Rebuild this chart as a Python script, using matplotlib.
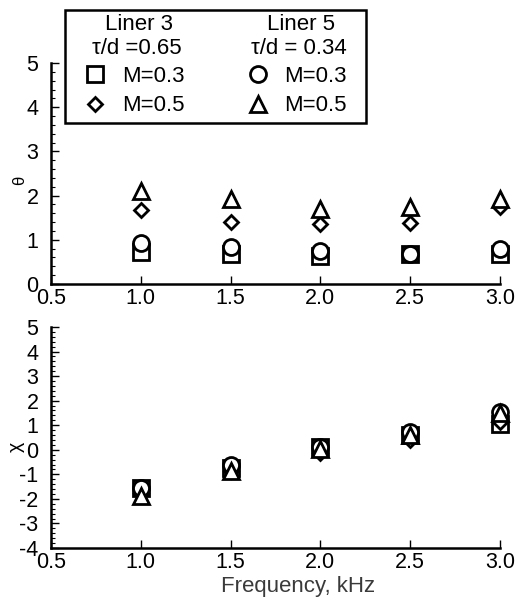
import matplotlib
matplotlib.use("Agg")
import matplotlib.pyplot as plt
from matplotlib.patches import Rectangle
from matplotlib.ticker import MultipleLocator

plt.rcParams['font.family'] = ['Liberation Sans', 'DejaVu Sans']
plt.rcParams['axes.unicode_minus'] = False

freq = [1.0, 1.5, 2.0, 2.5, 3.0]

theta_L3_M03 = [0.72, 0.68, 0.63, 0.68, 0.68]
theta_L3_M05 = [1.67, 1.40, 1.35, 1.38, 1.74]
theta_L5_M03 = [0.93, 0.83, 0.75, 0.68, 0.80]
theta_L5_M05 = [2.10, 1.93, 1.70, 1.75, 1.93]

chi_L3_M03 = [-1.55, -0.74, 0.13, 0.60, 1.05]
chi_L3_M05 = [-1.75, -0.88, -0.14, 0.40, 1.15]
chi_L5_M03 = [-1.55, -0.60, 0.13, 0.74, 1.53]
chi_L5_M05 = [-1.90, -0.85, 0.04, 0.60, 1.49]

series_labels = ["M=0.3", "M=0.5", "M=0.3", "M=0.5"]
markers = ['s', 'D', 'o', '^']
msizes = [11, 7.5, 11.5, 12]
xticks = [0.5, 1.0, 1.5, 2.0, 2.5, 3.0]

W, H = 521, 598
fig = plt.figure(figsize=(W / 100, H / 100), dpi=100)
ax1 = fig.add_axes([51 / W, 1 - 284 / H, 449 / W, 221 / H])
ax2 = fig.add_axes([51 / W, 1 - 548 / H, 449 / W, 221 / H])

handles = []
for ax, data in [(ax1, [theta_L3_M03, theta_L3_M05, theta_L5_M03, theta_L5_M05]),
                 (ax2, [chi_L3_M03, chi_L3_M05, chi_L5_M03, chi_L5_M05])]:
    hs = []
    for y, m, ms, lab in zip(data, markers, msizes, series_labels):
        h, = ax.plot(freq, y, linestyle='none', marker=m, markersize=ms,
                     markerfacecolor='white', markeredgecolor='black',
                     markeredgewidth=2.0, label=lab, clip_on=False)
        hs.append(h)
    if ax is ax1:
        handles = hs
    ax.set_xlim(0.5, 3.0)
    ax.set_xticks(xticks)
    ax.set_xticklabels([f"{v:.1f}" for v in xticks])
    for s in ['top', 'right']:
        ax.spines[s].set_visible(False)
    for s in ['left', 'bottom']:
        ax.spines[s].set_linewidth(1.8)
    ax.tick_params(axis='x', direction='in', length=6, width=1, labelsize=15.5, pad=3)
    ax.tick_params(axis='y', which='major', direction='in', length=6, width=1, labelsize=15.5, pad=9)
    ax.tick_params(axis='y', which='minor', direction='in', length=3, width=0.8)
    ax.yaxis.set_minor_locator(MultipleLocator(0.2))

ax1.set_ylim(0, 5)
ax1.set_yticks(range(0, 6))
ax2.set_ylim(-4, 5)
ax2.set_yticks(range(-4, 6))

fig.text(20 / W, 1 - 180 / H, "θ", rotation=90, fontsize=12, ha='center', va='center')
fig.text(16 / W, 1 - 447 / H, "χ", rotation=90, fontsize=14, ha='center', va='center')
fig.text(298 / W, 1 / H, "Frequency, kHz", fontsize=16, ha='center', va='bottom', color='#3a3a3a')

# legend frame and headers
fig.add_artist(Rectangle((65 / W, 1 - 123 / H), (366 - 65) / W, (123 - 10) / H,
                         transform=fig.transFigure, fill=False, edgecolor='black', linewidth=1.8))
hfs = 16
fig.text(139 / W, 1 - 25 / H, "Liner 3", fontsize=hfs, ha='center', va='center')
fig.text(137 / W, 1 - 48 / H, "τ/d =0.65", fontsize=hfs, ha='center', va='center')
fig.text(301 / W, 1 - 25 / H, "Liner 5", fontsize=hfs, ha='center', va='center')
fig.text(299 / W, 1 - 48 / H, "τ/d = 0.34", fontsize=hfs, ha='center', va='center')

leg = fig.legend(handles=handles, labels=series_labels, ncol=2, frameon=False,
                 loc='upper left', bbox_to_anchor=(84 / W, 1 - 66 / H),
                 fontsize=hfs, handlelength=1.0, handletextpad=0.7,
                 columnspacing=2.8, labelspacing=0.38, borderpad=0, borderaxespad=0)

fig.savefig("out.png", dpi=100)
